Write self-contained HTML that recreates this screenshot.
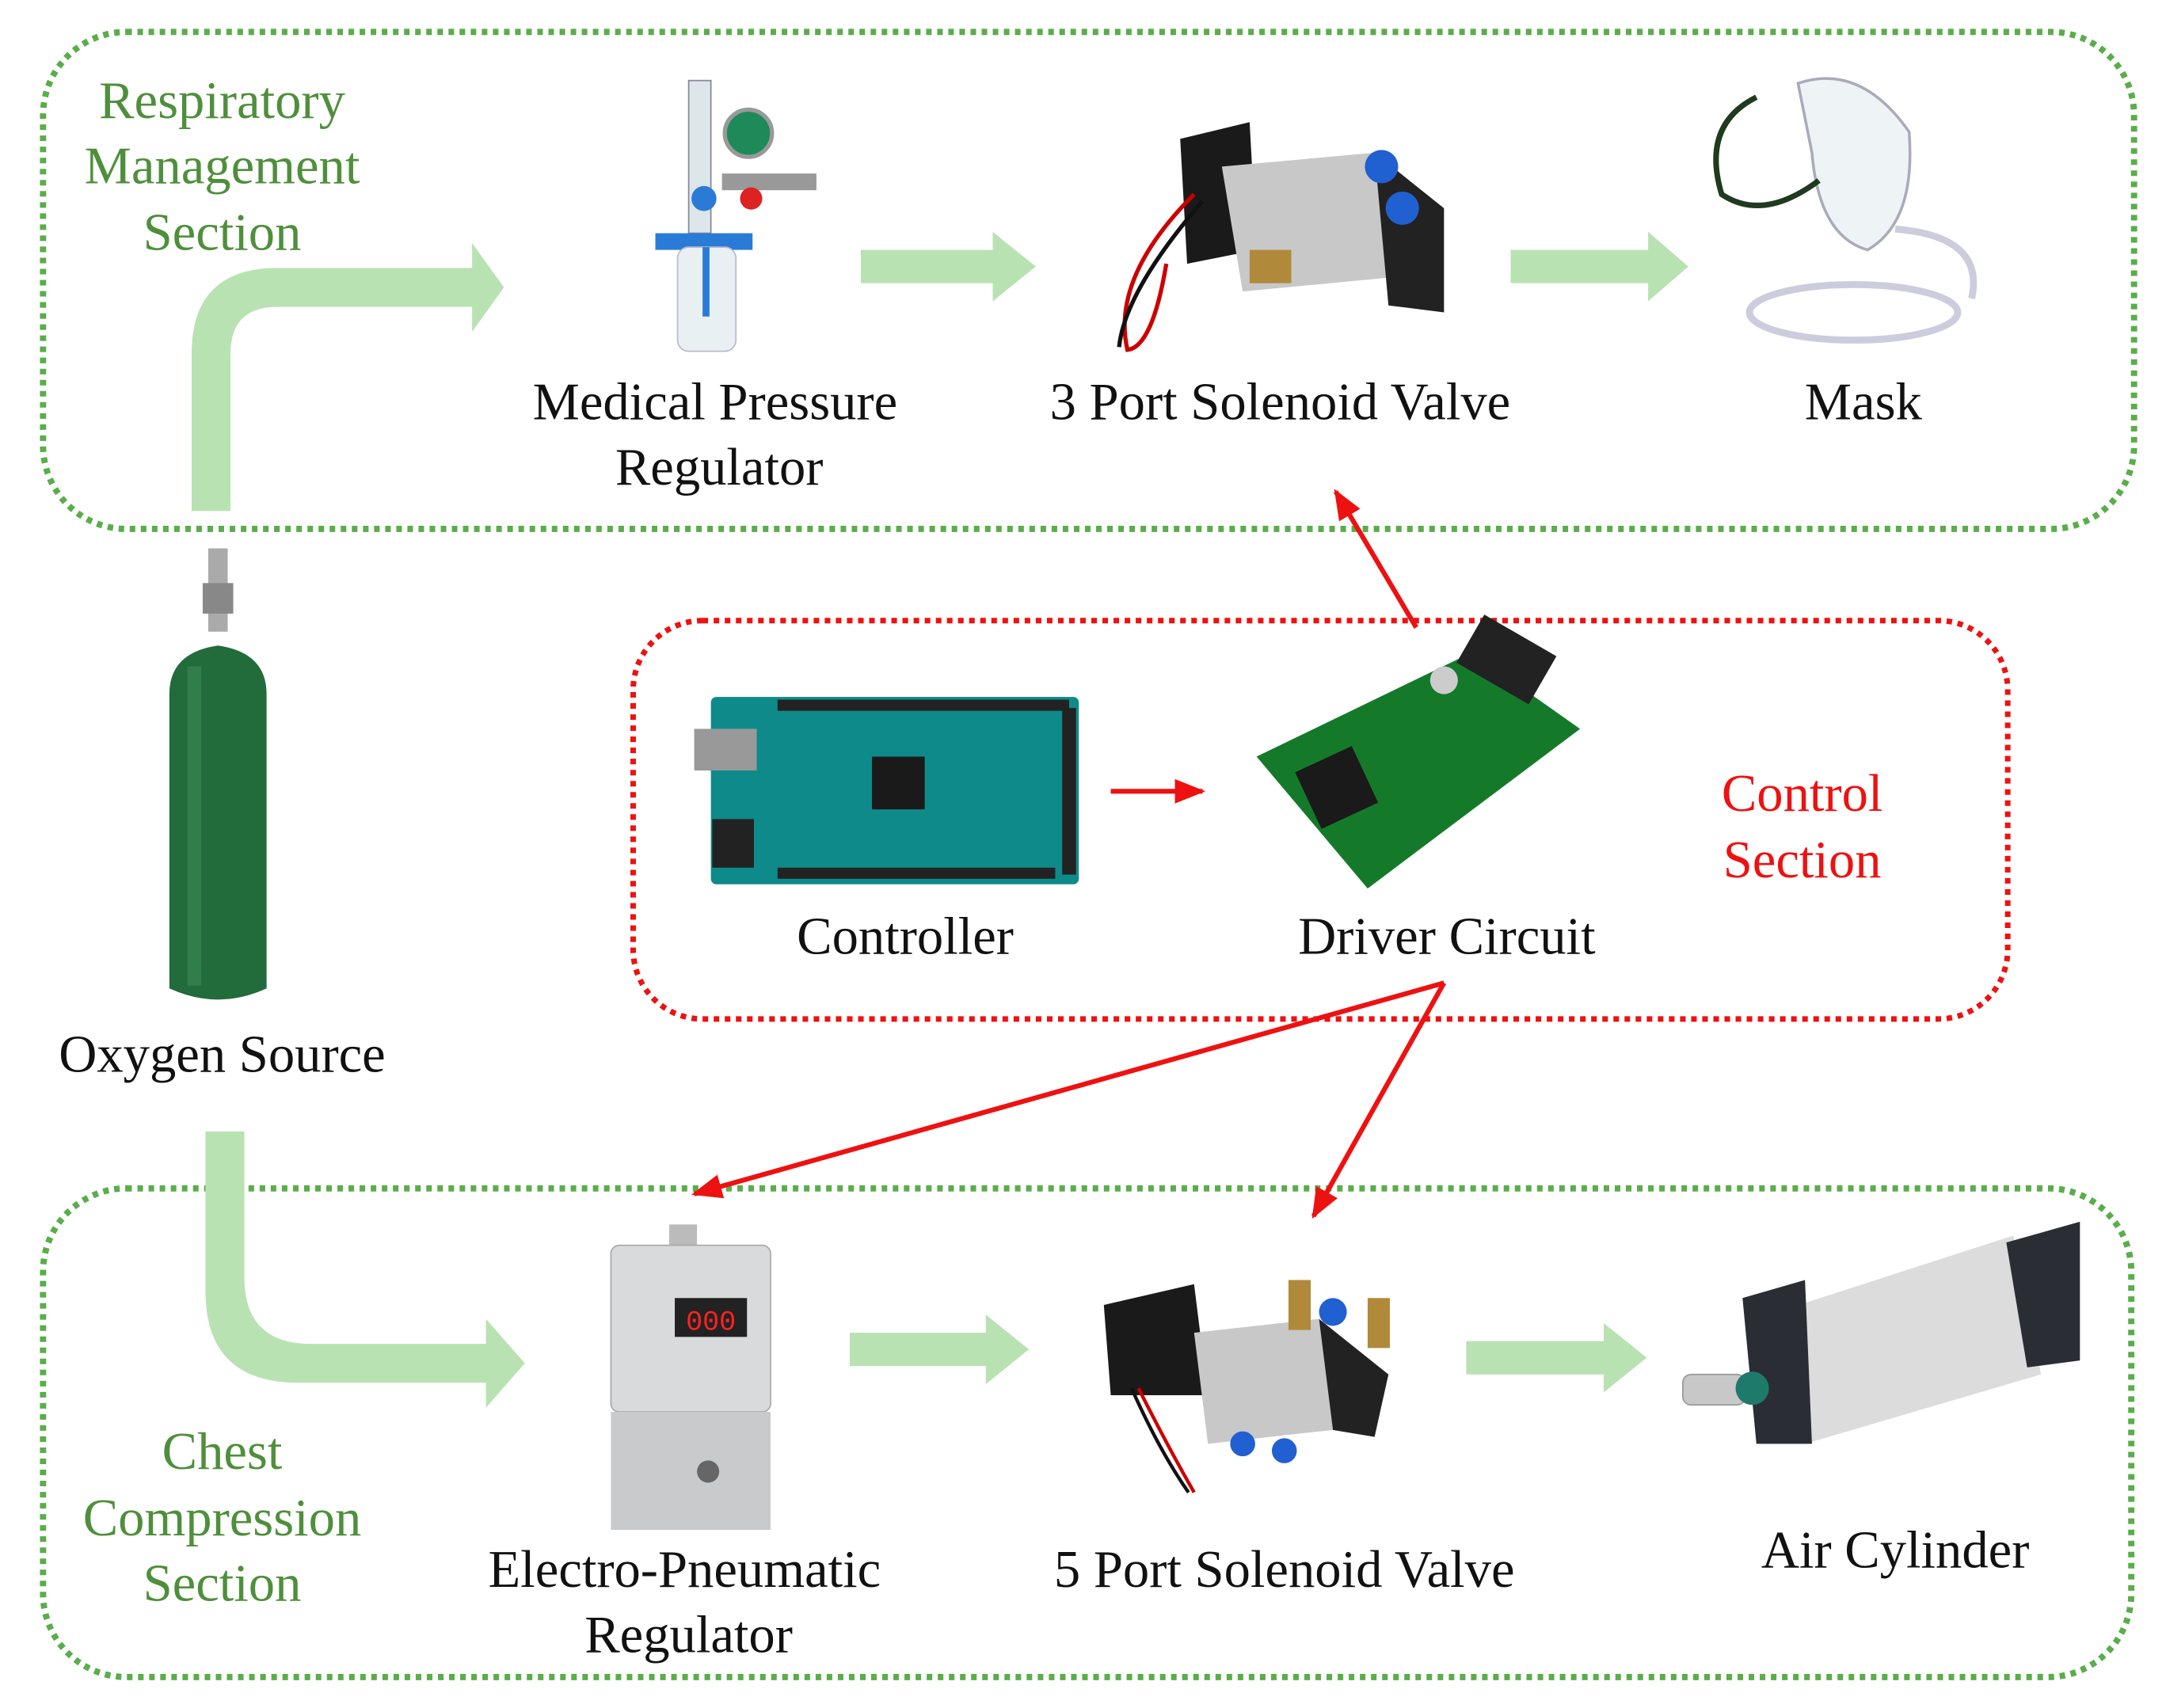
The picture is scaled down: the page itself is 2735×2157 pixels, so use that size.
<!DOCTYPE html>
<html><head><meta charset="utf-8"><style>
html,body{margin:0;padding:0;background:#fff}
svg{display:block}
text{font-family:"Liberation Serif",serif;font-size:38px;text-anchor:middle}
.g{fill:#4f8f3c}.r{fill:#ee1111}.k{fill:#111}
</style></head><body>
<svg width="2735" height="2157" viewBox="0 0 1560 1230.3" preserveAspectRatio="none" xmlns="http://www.w3.org/2000/svg">
<defs>
<marker id="rh" viewBox="0 0 10 10" refX="9" refY="5" markerWidth="22" markerHeight="22" markerUnits="userSpaceOnUse" orient="auto"><path d="M0,1 L10,5 L0,9 Z" fill="#ee1111"/></marker>
</defs>
<rect x="31" y="23" width="1506" height="358" rx="60" fill="none" stroke="#5aad4a" stroke-width="4.5" stroke-dasharray="4,4"/>
<rect x="456" y="447" width="990" height="287" rx="50" fill="none" stroke="#ee1111" stroke-width="4" stroke-dasharray="4,4"/>
<rect x="31" y="856" width="1504" height="352" rx="60" fill="none" stroke="#5aad4a" stroke-width="4.5" stroke-dasharray="4,4"/>

<g fill="#b9e2b2">
<path d="M138,368 L138,255 Q138,193 200,193 L340,193 L340,175 L363,207 L340,239 L340,221 L200,221 Q166,221 166,255 L166,368 Z"/>
<path d="M620,180 L715,180 L715,167 L746,192 L715,217 L715,204 L620,204 Z"/>
<path d="M1088,180 L1187,180 L1187,167 L1216,192 L1187,217 L1187,204 L1088,204 Z"/>
<path d="M148,815 L176,815 L176,920 Q176,968 224,968 L350,968 L350,950 L378,982 L350,1014 L350,996 L215,996 Q148,996 148,930 Z"/>
<path d="M612,960 L710,960 L710,947 L741,972 L710,997 L710,984 L612,984 Z"/>
<path d="M1056,966 L1155,966 L1155,953 L1186,978 L1155,1003 L1155,990 L1056,990 Z"/>
</g>

<g stroke="#ee1111" stroke-width="3.5" fill="none">
<line x1="800" y1="570" x2="866" y2="570" marker-end="url(#rh)"/>
<line x1="1020" y1="452" x2="962" y2="354" marker-end="url(#rh)"/>
<line x1="1040" y1="708" x2="500" y2="860" marker-end="url(#rh)"/>
<line x1="1040" y1="708" x2="946" y2="876" marker-end="url(#rh)"/>
</g>

<!-- oxygen cylinder -->
<rect x="150" y="395" width="14" height="60" fill="#aaa"/>
<rect x="146" y="420" width="22" height="22" fill="#888"/>
<path d="M122,500 Q122,470 157,465 Q192,470 192,500 L192,712 Q157,728 122,712 Z" fill="#226b3b"/>
<rect x="135" y="480" width="10" height="230" fill="#3c8a55" opacity="0.6"/>

<!-- medical regulator -->
<rect x="496" y="58" width="16" height="110" fill="#dde6ea" stroke="#889" stroke-width="1"/>
<circle cx="539" cy="96" r="17" fill="#1e8a5a" stroke="#999" stroke-width="3"/>
<rect x="520" y="125" width="68" height="12" fill="#999"/>
<circle cx="541" cy="143" r="8" fill="#dd2222"/>
<circle cx="507" cy="143" r="9" fill="#2a7bd6"/>
<rect x="472" y="168" width="70" height="12" fill="#2a7bd6"/>
<rect x="488" y="178" width="42" height="75" rx="8" fill="#e8f0f4" stroke="#bbc" stroke-width="1"/>
<rect x="506" y="178" width="5" height="50" fill="#2a7bd6"/>

<!-- 3 port solenoid -->
<path d="M850,100 L900,88 L905,180 L855,190 Z" fill="#1a1a1a"/>
<path d="M880,120 L990,110 L1000,200 L895,210 Z" fill="#c8c8c8"/>
<path d="M990,110 L1040,150 L1040,225 L1000,220 Z" fill="#222"/>
<circle cx="995" cy="120" r="12" fill="#2060d0"/><circle cx="1010" cy="150" r="12" fill="#2060d0"/>
<rect x="900" y="180" width="30" height="24" fill="#b08a3a"/>
<path d="M860,140 Q800,200 812,252 Q830,250 840,190" fill="none" stroke="#c00" stroke-width="3"/>
<path d="M866,145 Q810,210 806,250" fill="none" stroke="#111" stroke-width="3"/>

<!-- mask -->
<path d="M1295,60 Q1340,45 1375,95 Q1380,160 1345,180 Q1310,170 1305,110 Z" fill="#eef3f5" stroke="#aab" stroke-width="2"/>
<path d="M1265,70 Q1225,90 1240,140 Q1270,160 1310,130" fill="none" stroke="#1f3a1f" stroke-width="4"/>
<ellipse cx="1335" cy="225" rx="75" ry="20" fill="none" stroke="#ccd" stroke-width="5"/>
<path d="M1365,165 Q1430,170 1420,215" fill="none" stroke="#ccd" stroke-width="5"/>

<!-- arduino -->
<rect x="512" y="502" width="265" height="135" rx="4" fill="#0f8a8a"/>
<rect x="500" y="525" width="45" height="30" fill="#999"/>
<rect x="513" y="590" width="30" height="35" fill="#222"/>
<rect x="560" y="504" width="210" height="8" fill="#222"/>
<rect x="765" y="510" width="10" height="120" fill="#222"/>
<rect x="560" y="625" width="200" height="8" fill="#222"/>
<rect x="628" y="545" width="38" height="38" fill="#1a1a1a"/>

<!-- driver board -->
<path d="M905,545 L1060,470 L1138,525 L985,640 Z" fill="#147a2a"/>
<rect x="940" y="545" width="45" height="45" fill="#1a1a1a" transform="rotate(-25 962 567)"/>
<rect x="1055" y="455" width="60" height="40" fill="#222" transform="rotate(30 1085 475)"/>
<circle cx="1040" cy="490" r="10" fill="#ccc"/>

<!-- EP regulator -->
<rect x="482" y="882" width="20" height="18" fill="#bbb"/>
<rect x="440" y="897" width="115" height="120" rx="6" fill="#d8dadc" stroke="#aaa" stroke-width="1"/>
<rect x="486" y="935" width="52" height="28" fill="#222"/>
<text x="512" y="958" style="font-size:20px;fill:#f22;font-family:'Liberation Mono',monospace">000</text>
<rect x="440" y="1017" width="115" height="85" fill="#c8cacc"/>
<circle cx="510" cy="1060" r="8" fill="#666"/>

<!-- 5 port solenoid -->
<path d="M795,940 L860,925 L870,1005 L800,1005 Z" fill="#1a1a1a"/>
<path d="M860,960 L950,950 L960,1030 L870,1040 Z" fill="#c8c8c8"/>
<path d="M950,950 L1000,990 L990,1035 L960,1030 Z" fill="#222"/>
<rect x="928" y="922" width="16" height="36" fill="#b08a3a"/><rect x="985" y="935" width="16" height="36" fill="#b08a3a"/>
<circle cx="960" cy="945" r="10" fill="#2060d0"/>
<circle cx="895" cy="1040" r="9" fill="#2060d0"/><circle cx="925" cy="1045" r="9" fill="#2060d0"/>
<path d="M820,1000 Q840,1040 860,1075" fill="none" stroke="#c00" stroke-width="2.5"/>
<path d="M815,1000 Q835,1045 856,1075" fill="none" stroke="#111" stroke-width="2.5"/>

<!-- air cylinder -->
<path d="M1280,945 L1450,890 L1470,990 L1300,1040 Z" fill="#dcdcdc"/>
<path d="M1255,935 L1300,922 L1305,1040 L1265,1040 Z" fill="#2a2d33"/>
<path d="M1445,895 L1498,880 L1498,980 L1460,985 Z" fill="#2a2d33"/>
<rect x="1212" y="990" width="45" height="22" rx="6" fill="#c8c8c8" stroke="#999"/>
<circle cx="1262" cy="1000" r="12" fill="#1e7a6a"/>

<!-- labels -->
<text class="g" x="160" y="85">Respiratory</text>
<text class="g" x="160" y="132">Management</text>
<text class="g" x="160" y="180">Section</text>
<text class="k" x="515" y="302">Medical Pressure</text>
<text class="k" x="518" y="349">Regulator</text>
<text class="k" x="922" y="302">3 Port Solenoid Valve</text>
<text class="k" x="1342" y="302">Mask</text>
<text class="k" x="160" y="772">Oxygen Source</text>
<text class="k" x="652" y="687">Controller</text>
<text class="k" x="1042" y="687">Driver Circuit</text>
<text class="r" x="1298" y="584">Control</text>
<text class="r" x="1298" y="632">Section</text>
<text class="g" x="160" y="1058">Chest</text>
<text class="g" x="160" y="1106">Compression</text>
<text class="g" x="160" y="1153">Section</text>
<text class="k" x="493" y="1143">Electro-Pneumatic</text>
<text class="k" x="496" y="1190">Regulator</text>
<text class="k" x="925" y="1143">5 Port Solenoid Valve</text>
<text class="k" x="1365" y="1129">Air Cylinder</text>
</svg>
</body></html>
